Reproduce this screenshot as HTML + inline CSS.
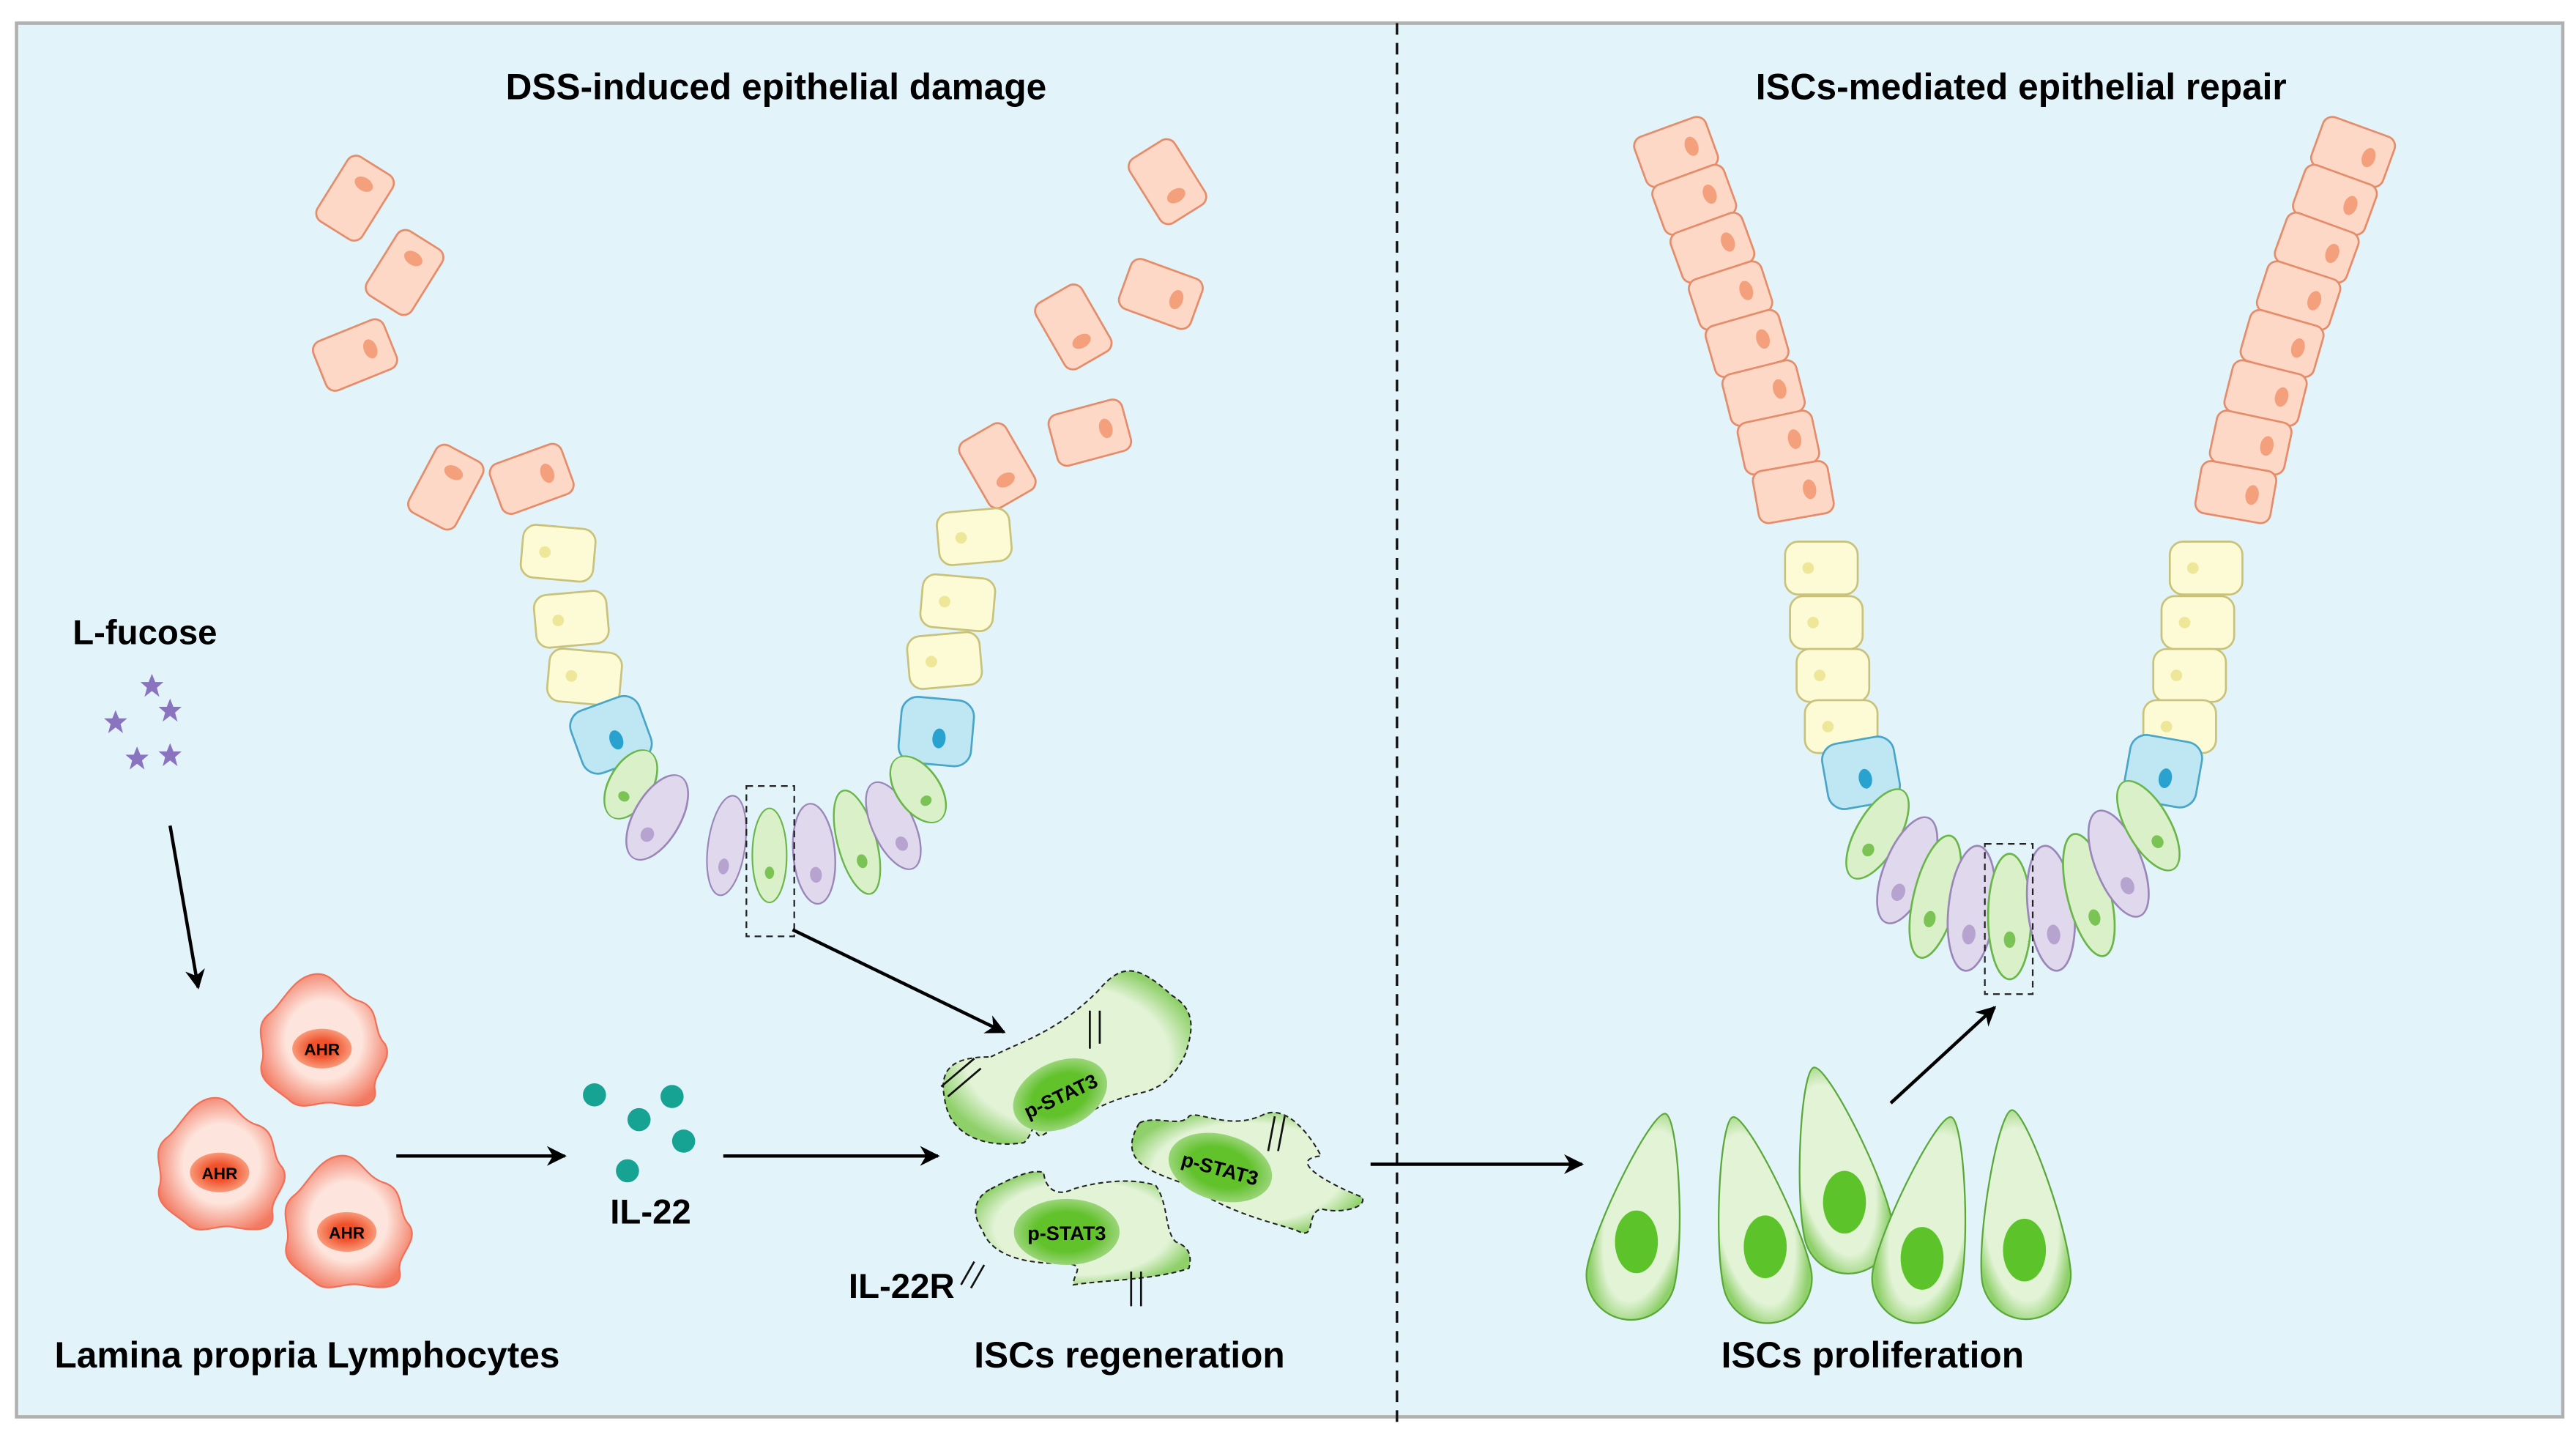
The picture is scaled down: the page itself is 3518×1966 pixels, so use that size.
<!DOCTYPE html>
<html><head><meta charset="utf-8"><style>
html,body{margin:0;padding:0;background:#fff;}
svg{display:block;}
text{font-family:"Liberation Sans",sans-serif;font-weight:bold;}
</style></head><body>
<svg width="3518" height="1966" viewBox="0 0 1560 872" preserveAspectRatio="none" xmlns="http://www.w3.org/2000/svg">
<defs>
<radialGradient id="gc" cx="50%" cy="50%" r="55%"><stop offset="75%" stop-color="#e2f3d6"/><stop offset="100%" stop-color="#8fd06a"/></radialGradient>
<radialGradient id="gn" cx="50%" cy="50%" r="50%"><stop offset="60%" stop-color="#62c22c"/><stop offset="100%" stop-color="#9bd57a"/></radialGradient>
<radialGradient id="ahr" cx="50%" cy="50%" r="55%"><stop offset="55%" stop-color="#fde4dc"/><stop offset="100%" stop-color="#f27a62"/></radialGradient>
<radialGradient id="ahn" cx="50%" cy="50%" r="50%"><stop offset="40%" stop-color="#f0502a"/><stop offset="100%" stop-color="#f89a7a"/></radialGradient>
<marker id="ar" viewBox="0 0 10 10" refX="9" refY="5" markerWidth="6" markerHeight="6" orient="auto"><path d="M0,0 L10,5 L0,10 L3,5Z" fill="#000"/></marker>
<g id="oc"><rect x="-23" y="-16" width="46" height="32" rx="6" fill="#fdd8c6" stroke="#e58c6a" stroke-width="1.2"/><ellipse cx="10" cy="0" rx="4" ry="6" fill="#f4a07c"/></g>
<g id="yc"><rect x="-22" y="-16" width="44" height="32" rx="8" fill="#fdfbd6" stroke="#c9c27a" stroke-width="1.2"/><circle cx="-8" cy="0" r="3.5" fill="#eee79a"/></g>
<g id="bc"><rect x="-22" y="-20" width="44" height="40" rx="10" fill="#bfe6f3" stroke="#4aa6c8" stroke-width="1.2"/><ellipse cx="2" cy="4" rx="4" ry="6" fill="#2aa2cf"/></g>
<g id="gcell"><ellipse cx="0" cy="0" rx="13" ry="38" fill="#d9f0c9" stroke="#6ab64a" stroke-width="1.2"/><ellipse cx="0" cy="14" rx="3.5" ry="5" fill="#7cc356"/></g>
<g id="pcell"><ellipse cx="0" cy="0" rx="14" ry="38" fill="#e0d8ec" stroke="#9a86b8" stroke-width="1.2"/><ellipse cx="0" cy="16" rx="4" ry="6" fill="#b6a3d0"/></g>
<path id="star" d="M0,-7 L2,-2 L7,-2 L3,1.5 L4.5,7 L0,3.5 L-4.5,7 L-3,1.5 L-7,-2 L-2,-2Z" fill="#8a74c0"/>
<path id="ahrb" d="M-5,-40 C8,-42 10,-28 22,-24 C36,-20 30,-6 38,2 C44,12 30,20 32,30 C34,42 18,40 8,38 C-2,36 -12,44 -20,36 C-30,28 -40,24 -36,12 C-34,2 -42,-8 -32,-16 C-24,-22 -18,-38 -5,-40Z" fill="url(#ahr)" stroke="#f07058" stroke-width="1"/>
<path id="isc" d="M0,-65 C8,-65 27,5 27,35 A27,27 0 0 1 -27,35 C-27,5 -8,-65 0,-65Z"/>
</defs>
<rect x="0" y="0" width="1560" height="872" fill="#fff"/>
<rect x="10" y="14" width="1542" height="844" fill="#e3f3fa" stroke="#b0b0b0" stroke-width="2"/>
<line x1="846" y1="14" x2="846" y2="862" stroke="#111" stroke-width="1.5" stroke-dasharray="7,5"/>
<text x="470" y="60" font-size="22" text-anchor="middle">DSS-induced epithelial damage</text>
<text x="1224" y="60" font-size="22" text-anchor="middle">ISCs-mediated epithelial repair</text>

<!-- damaged crypt -->
<use href="#oc" transform="translate(215,120) rotate(-58)"/>
<use href="#oc" transform="translate(245,165) rotate(-58)"/>
<use href="#oc" transform="translate(215,215) rotate(-22)"/>
<use href="#oc" transform="translate(270,295) rotate(-62)"/>
<use href="#oc" transform="translate(322,290) rotate(-20)"/>
<use href="#oc" transform="translate(707,110) rotate(58)"/>
<use href="#oc" transform="translate(703,178) rotate(20)"/>
<use href="#oc" transform="translate(650,198) rotate(60)"/>
<use href="#oc" transform="translate(660,262) rotate(-15)"/>
<use href="#oc" transform="translate(604,282) rotate(60)"/>
<use href="#yc" transform="translate(338,335) rotate(5)"/>
<use href="#yc" transform="translate(346,375) rotate(-5)"/>
<use href="#yc" transform="translate(354,410) rotate(5)"/>
<use href="#yc" transform="translate(590,325) rotate(-5)"/>
<use href="#yc" transform="translate(580,365) rotate(5)"/>
<use href="#yc" transform="translate(572,400) rotate(-5)"/>
<use href="#bc" transform="translate(370,445) rotate(-20)"/>
<use href="#bc" transform="translate(567,443) rotate(5)"/>
<use href="#gcell" transform="translate(382,475) rotate(30) scale(1,0.6)"/>
<use href="#pcell" transform="translate(398,495) rotate(30) scale(1,0.75)"/>
<use href="#pcell" transform="translate(440,512) rotate(8) scale(0.8,0.8)"/>
<use href="#gcell" transform="translate(466,518) rotate(0) scale(0.8,0.75)"/>
<use href="#pcell" transform="translate(493,517) rotate(-5) scale(0.9,0.8)"/>
<use href="#gcell" transform="translate(519,510) rotate(-15) scale(0.9,0.85)"/>
<use href="#pcell" transform="translate(541,500) rotate(-25) scale(0.9,0.75)"/>
<use href="#gcell" transform="translate(556,478) rotate(-35) scale(1,0.6)"/>
<rect x="452" y="476" width="29" height="91" fill="none" stroke="#222" stroke-width="1" stroke-dasharray="4,3"/>

<!-- repair crypt -->
<g>
<use href="#oc" transform="translate(1015,92) rotate(-20)"/>
<use href="#oc" transform="translate(1026,121) rotate(-20)"/>
<use href="#oc" transform="translate(1037,150) rotate(-20)"/>
<use href="#oc" transform="translate(1048,179) rotate(-18)"/>
<use href="#oc" transform="translate(1058,208) rotate(-16)"/>
<use href="#oc" transform="translate(1068,238) rotate(-14)"/>
<use href="#oc" transform="translate(1077,268) rotate(-12)"/>
<use href="#oc" transform="translate(1086,298) rotate(-10)"/>
<use href="#oc" transform="translate(1096,328) rotate(-6)" opacity="0"/>
<use href="#oc" transform="translate(1425,92) rotate(20)"/>
<use href="#oc" transform="translate(1414,121) rotate(20)"/>
<use href="#oc" transform="translate(1403,150) rotate(20)"/>
<use href="#oc" transform="translate(1392,179) rotate(18)"/>
<use href="#oc" transform="translate(1382,208) rotate(16)"/>
<use href="#oc" transform="translate(1372,238) rotate(14)"/>
<use href="#oc" transform="translate(1363,268) rotate(12)"/>
<use href="#oc" transform="translate(1354,298) rotate(10)"/>
<use href="#yc" transform="translate(1103,344)"/>
<use href="#yc" transform="translate(1106,377)"/>
<use href="#yc" transform="translate(1110,409)"/>
<use href="#yc" transform="translate(1115,440)"/>
<use href="#yc" transform="translate(1336,344)"/>
<use href="#yc" transform="translate(1331,377)"/>
<use href="#yc" transform="translate(1326,409)"/>
<use href="#yc" transform="translate(1320,440)"/>
<use href="#bc" transform="translate(1127,468) rotate(-10)"/>
<use href="#bc" transform="translate(1310,467) rotate(10)"/>
<use href="#gcell" transform="translate(1137,505) rotate(30) scale(1,0.8)"/>
<use href="#pcell" transform="translate(1155,527) rotate(22) scale(1,0.9)"/>
<use href="#gcell" transform="translate(1172,543) rotate(14)"/>
<use href="#pcell" transform="translate(1194,550) rotate(6)"/>
<use href="#gcell" transform="translate(1217,555)"/>
<use href="#pcell" transform="translate(1242,550) rotate(-6)"/>
<use href="#gcell" transform="translate(1265,542) rotate(-14)"/>
<use href="#pcell" transform="translate(1283,523) rotate(-22) scale(1,0.9)"/>
<use href="#gcell" transform="translate(1301,500) rotate(-30) scale(1,0.8)"/>
<rect x="1202" y="511" width="29" height="91" fill="none" stroke="#222" stroke-width="1" stroke-dasharray="4,3"/>
</g>

<!-- L-fucose -->
<text x="44" y="390" font-size="21">L-fucose</text>
<use href="#star" transform="translate(92,415)"/>
<use href="#star" transform="translate(70,437)"/>
<use href="#star" transform="translate(103,430)"/>
<use href="#star" transform="translate(83,459)"/>
<use href="#star" transform="translate(103,457)"/>
<line x1="103" y1="500" x2="120" y2="598" stroke="#000" stroke-width="2" marker-end="url(#ar)"/>

<!-- AHR -->
<g transform="translate(195,630)"><use href="#ahrb"/><ellipse cx="0" cy="5" rx="18" ry="12" fill="url(#ahn)"/><text x="0" y="9" font-size="10" text-anchor="middle">AHR</text></g>
<g transform="translate(133,705)"><use href="#ahrb"/><ellipse cx="0" cy="5" rx="18" ry="12" fill="url(#ahn)"/><text x="0" y="9" font-size="10" text-anchor="middle">AHR</text></g>
<g transform="translate(210,740)"><use href="#ahrb"/><ellipse cx="0" cy="6" rx="18" ry="12" fill="url(#ahn)"/><text x="0" y="10" font-size="10" text-anchor="middle">AHR</text></g>
<line x1="240" y1="700" x2="342" y2="700" stroke="#000" stroke-width="2" marker-end="url(#ar)"/>

<!-- IL-22 -->
<g fill="#16a394"><circle cx="360" cy="663" r="7"/><circle cx="407" cy="664" r="7"/><circle cx="387" cy="678" r="7"/><circle cx="414" cy="691" r="7"/><circle cx="380" cy="709" r="7"/></g>
<text x="394" y="741" font-size="21" text-anchor="middle">IL-22</text>
<line x1="438" y1="700" x2="568" y2="700" stroke="#000" stroke-width="2" marker-end="url(#ar)"/>
<line x1="480" y1="563" x2="608" y2="625" stroke="#000" stroke-width="2" marker-end="url(#ar)"/>

<!-- STAT3 cells -->
<g stroke="#222" stroke-width="0.9" stroke-dasharray="3,2" fill="url(#gc)">
<path d="M600,640 C620,630 640,625 665,600 C680,582 690,585 710,603 C725,612 722,625 718,638 C710,655 700,660 690,662 C665,668 660,675 640,682 C630,688 630,690 627,685 C625,680 625,688 620,692 C600,695 575,690 572,665 C568,645 580,640 600,640Z"/>
<path d="M690,680 C700,675 715,683 720,676 C725,672 745,685 765,675 C780,668 795,690 800,700 C780,702 800,715 825,725 C828,732 810,735 800,732 C790,735 798,752 785,745 C770,740 745,735 720,718 C700,710 675,705 690,680Z"/>
<path d="M600,720 C615,712 625,708 632,710 C633,720 640,725 650,720 C670,714 690,714 700,718 C708,730 705,745 712,752 C720,755 722,760 720,768 C700,775 670,775 650,778 C650,770 660,765 640,765 C620,765 600,760 595,745 C588,735 590,725 600,720Z"/>
</g>
<g stroke="#111" stroke-width="1.2">
<line x1="590" y1="641" x2="570" y2="658"/><line x1="594" y1="647" x2="574" y2="664"/>
<line x1="660" y1="612" x2="660" y2="635"/><line x1="666" y1="612" x2="666" y2="632"/>
<line x1="772" y1="676" x2="768" y2="697"/><line x1="778" y1="676" x2="774" y2="697"/>
<line x1="590" y1="764" x2="582" y2="778"/><line x1="596" y1="766" x2="588" y2="780"/>
<line x1="685" y1="770" x2="685" y2="791"/><line x1="691" y1="770" x2="691" y2="791"/>
</g>
<ellipse cx="642" cy="663" rx="30" ry="20" transform="rotate(-25 642 663)" fill="url(#gn)"/>
<text x="642" y="668" font-size="12" text-anchor="middle" transform="rotate(-25 642 663)">p-STAT3</text>
<ellipse cx="739" cy="707" rx="32" ry="20" transform="rotate(15 739 707)" fill="url(#gn)"/>
<text x="739" y="712" font-size="12" text-anchor="middle" transform="rotate(15 739 707)">p-STAT3</text>
<ellipse cx="646" cy="746" rx="32" ry="20" fill="url(#gn)"/>
<text x="646" y="751" font-size="12" text-anchor="middle">p-STAT3</text>
<text x="546" y="786" font-size="21" text-anchor="middle">IL-22R</text>

<line x1="830" y1="705" x2="958" y2="705" stroke="#000" stroke-width="2" marker-end="url(#ar)"/>

<!-- ISCs proliferation -->
<g stroke="#5aa83a" stroke-width="1" fill="url(#gc)">
<use href="#isc" transform="translate(995,738) rotate(12)"/>
<use href="#isc" transform="translate(1063,740) rotate(-12)"/>
<use href="#isc" transform="translate(1112,710) rotate(-12)"/>
<use href="#isc" transform="translate(1168,740) rotate(12)"/>
<use href="#isc" transform="translate(1224,737) rotate(-5)"/>
</g>
<g fill="#5cc42a"><ellipse cx="991" cy="752" rx="13" ry="19"/><ellipse cx="1069" cy="755" rx="13" ry="19"/><ellipse cx="1117" cy="728" rx="13" ry="19"/><ellipse cx="1164" cy="762" rx="13" ry="19"/><ellipse cx="1226" cy="757" rx="13" ry="19"/></g>
<line x1="1145" y1="668" x2="1208" y2="610" stroke="#000" stroke-width="2" marker-end="url(#ar)"/>

<text x="186" y="828" font-size="22" text-anchor="middle">Lamina propria Lymphocytes</text>
<text x="684" y="828" font-size="22" text-anchor="middle">ISCs regeneration</text>
<text x="1134" y="828" font-size="22" text-anchor="middle">ISCs proliferation</text>
</svg>
</body></html>
